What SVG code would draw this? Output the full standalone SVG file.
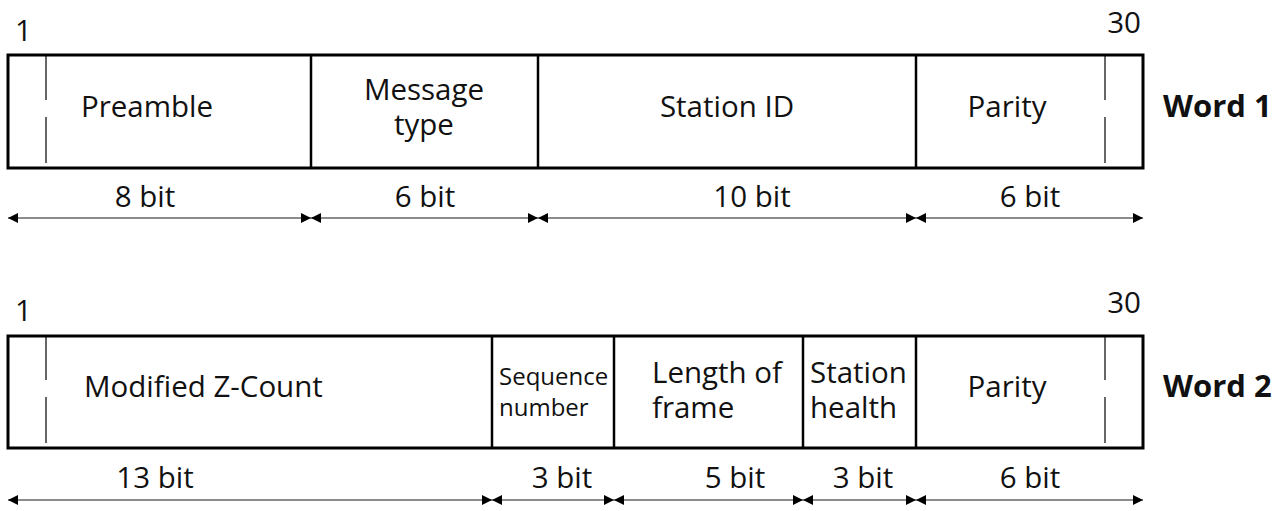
<svg xmlns="http://www.w3.org/2000/svg" width="1286" height="511" viewBox="0 0 1286 511">
<defs>
<marker id="ah" viewBox="0 0 10 10" refX="10" refY="5" markerWidth="10" markerHeight="10" markerUnits="userSpaceOnUse" orient="auto-start-reverse">
<path d="M0,0 L10,5 L0,10 Z" fill="#000"/>
</marker>
</defs>
<style>
text{font-family:"Open Sans","Noto Sans",sans-serif;fill:#111;}
.t{font-size:29.5px;}
.s{font-size:24px;}
.b{font-size:31px;font-weight:bold;}
.box{fill:#fff;stroke:#000;stroke-width:3;}
.div{stroke:#000;stroke-width:2.5;}
.tick{stroke:#000;stroke-width:1.2;}
.dim{stroke:#666;stroke-width:1.3;marker-start:url(#ah);marker-end:url(#ah);}
</style>
<g id="word1">
<text class="t" x="15" y="41">1</text>
<text class="t" x="1141" y="33" text-anchor="end">30</text>
<rect class="box" x="8" y="55" width="1135" height="113"/>
<line class="tick" x1="46" y1="56" x2="46" y2="100"/>
<line class="tick" x1="46" y1="117" x2="46" y2="163"/>
<line class="tick" x1="1105" y1="56" x2="1105" y2="100"/>
<line class="tick" x1="1105" y1="117" x2="1105" y2="163"/>
<line class="div" x1="311" y1="55" x2="311" y2="168"/>
<line class="div" x1="538" y1="55" x2="538" y2="168"/>
<line class="div" x1="916" y1="55" x2="916" y2="168"/>
<text class="b" x="1163" y="117">Word 1</text>
</g>
<g id="w1-preamble"><text class="t" x="147" y="117" text-anchor="middle">Preamble</text></g>
<g id="w1-msgtype"><text class="t" x="424" y="100" text-anchor="middle">Message</text><text class="t" x="424" y="135" text-anchor="middle">type</text></g>
<g id="w1-station"><text class="t" x="727" y="117" text-anchor="middle">Station ID</text></g>
<g id="w1-parity"><text class="t" x="1007" y="117" text-anchor="middle">Parity</text></g>
<g id="w1-bits">
<text class="t" x="145" y="207" text-anchor="middle">8 bit</text>
<text class="t" x="425" y="207" text-anchor="middle">6 bit</text>
<text class="t" x="752" y="207" text-anchor="middle">10 bit</text>
<text class="t" x="1030" y="207" text-anchor="middle">6 bit</text>
</g>
<g id="word2">
<text class="t" x="15" y="321">1</text>
<text class="t" x="1141" y="313" text-anchor="end">30</text>
<rect class="box" x="8" y="336" width="1135" height="112"/>
<line class="tick" x1="46" y1="337" x2="46" y2="380"/>
<line class="tick" x1="46" y1="397" x2="46" y2="443"/>
<line class="tick" x1="1105" y1="337" x2="1105" y2="380"/>
<line class="tick" x1="1105" y1="397" x2="1105" y2="443"/>
<line class="div" x1="492" y1="336" x2="492" y2="448"/>
<line class="div" x1="614" y1="336" x2="614" y2="448"/>
<line class="div" x1="803" y1="336" x2="803" y2="448"/>
<line class="div" x1="916" y1="336" x2="916" y2="448"/>
<text class="b" x="1163" y="397">Word 2</text>
</g>
<g id="w2-zcount"><text class="t" x="84" y="397">Modified Z-Count</text></g>
<g id="w2-seq"><text class="s" x="499" y="385">Sequence</text><text class="s" x="499" y="416">number</text></g>
<g id="w2-len"><text class="t" x="652" y="383">Length of</text><text class="t" x="652" y="418">frame</text></g>
<g id="w2-health"><text class="t" x="810" y="383">Station</text><text class="t" x="810" y="418">health</text></g>
<g id="w2-parity"><text class="t" x="1007" y="397" text-anchor="middle">Parity</text></g>
<g id="w2-bits">
<text class="t" x="155" y="488" text-anchor="middle">13 bit</text>
<text class="t" x="562" y="488" text-anchor="middle">3 bit</text>
<text class="t" x="735" y="488" text-anchor="middle">5 bit</text>
<text class="t" x="863" y="488" text-anchor="middle">3 bit</text>
<text class="t" x="1030" y="488" text-anchor="middle">6 bit</text>
</g>
<g id="connectors">
<line class="dim" x1="8" y1="218" x2="311" y2="218"/>
<line class="dim" x1="311" y1="218" x2="538" y2="218"/>
<line class="dim" x1="538" y1="218" x2="916" y2="218"/>
<line class="dim" x1="916" y1="218" x2="1143" y2="218"/>
<line class="dim" x1="8" y1="500" x2="492" y2="500"/>
<line class="dim" x1="492" y1="500" x2="614" y2="500"/>
<line class="dim" x1="614" y1="500" x2="803" y2="500"/>
<line class="dim" x1="803" y1="500" x2="916" y2="500"/>
<line class="dim" x1="916" y1="500" x2="1143" y2="500"/>
</g>
</svg>
